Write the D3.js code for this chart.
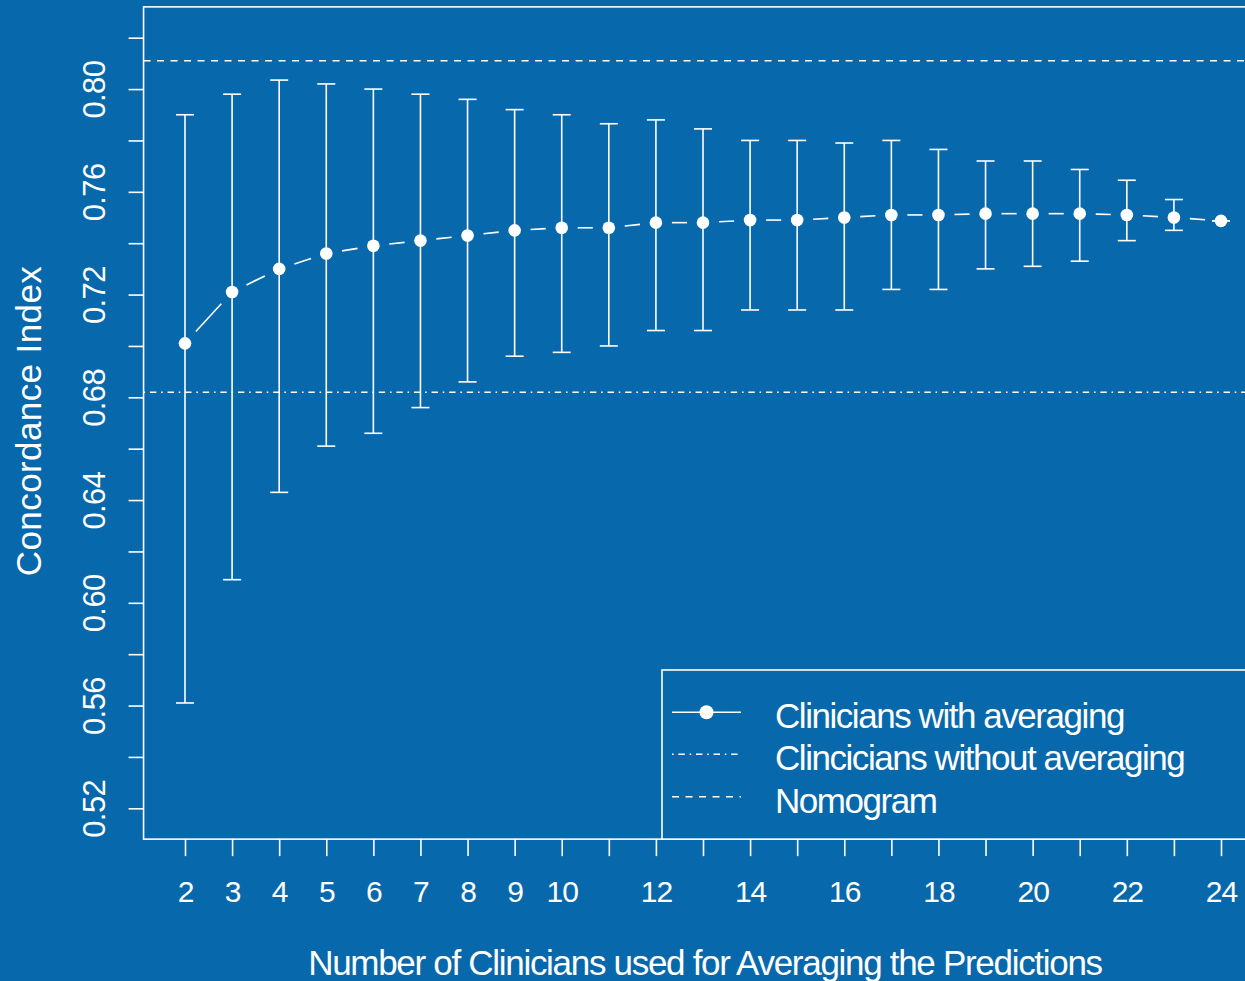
<!DOCTYPE html>
<html>
<head>
<meta charset="utf-8">
<script src="https://cdn.jsdelivr.net/npm/d3@7"></script>
<style>
  html, body { margin: 0; padding: 0; background: #0868ac; }
  svg { display: block; }
  text { font-family: "Liberation Sans", Arial, Helvetica, sans-serif; fill: #fff; }
</style>
</head>
<body>
<svg id="chart" width="1245" height="981"></svg>
<script>
// ---- data ----
const clinicians = [2,3,4,5,6,7,8,9,10,11,12,13,14,15,16,17,18,19,20,21,22,23,24];
const meanCI  = [0.701,0.721,0.730,0.736,0.739,0.741,0.743,0.745,0.746,0.746,0.748,0.748,0.749,0.749,0.750,0.751,0.751,0.7515,0.7515,0.7515,0.751,0.750,0.7487];
const upperCI = [0.790,0.798,0.8035,0.802,0.800,0.798,0.796,0.792,0.790,0.7865,0.788,0.7845,0.780,0.780,0.779,0.780,0.7765,0.772,0.772,0.7687,0.7645,0.757,0.7487];
const lowerCI = [0.561,0.609,0.643,0.661,0.666,0.676,0.686,0.696,0.6975,0.700,0.706,0.706,0.714,0.714,0.714,0.722,0.722,0.730,0.731,0.733,0.741,0.745,0.7487];
const nomogramCI = 0.811;
const noAveragingCI = 0.682;
const yTicks = [0.52,0.54,0.56,0.58,0.60,0.62,0.64,0.66,0.68,0.70,0.72,0.74,0.76,0.78,0.80,0.82];
const yLabels = [0.52,0.56,0.60,0.64,0.68,0.72,0.76,0.80];
const xTicks = clinicians;
const xLabels = [2,3,4,5,6,7,8,9,10,12,14,16,18,20,22,24];
const legendLabels = ["Clinicians with averaging","Clincicians without averaging","Nomogram"];

// ---- scales ----
const x = d3.scaleLinear().domain([2,24]).range([185,1221]);
const y = d3.scaleLinear().domain([0.52,0.82]).range([808.3,37.7]);
const xMin = 1.12, xMax = 24.88, yMin = 0.508, yMax = 0.832;

const svg = d3.select("#chart");
svg.append("rect").attr("width",1245).attr("height",981).attr("fill","#0868ac");

const W = "#ffffff", LW = 1.6;

// plot box
svg.append("rect")
  .attr("x", x(xMin)).attr("y", y(yMax))
  .attr("width", x(xMax)-x(xMin)).attr("height", y(yMin)-y(yMax))
  .attr("fill","none").attr("stroke",W).attr("stroke-width",LW);

// y axis
const yAxis = d3.axisLeft(y).tickValues(yTicks).tickSize(15).tickPadding(0)
  .tickFormat(d => yLabels.some(v => Math.abs(v-d)<1e-9) ? d3.format(".2f")(d) : "");
const gy = svg.append("g").attr("transform",`translate(${x(xMin)},0)`).call(yAxis);
gy.select(".domain").remove();
gy.selectAll("line").attr("stroke",W).attr("stroke-width",LW);
gy.selectAll("text")
  .attr("x",0).attr("y",0).attr("dy",null)
  .attr("transform", function(){ return `translate(${105-x(xMin)},0) rotate(-90)`; })
  .attr("text-anchor","middle")
  .style("font-size","31px").style("letter-spacing","-0.6px").attr("fill",W);

// x axis
const xAxis = d3.axisBottom(x).tickValues(xTicks).tickSize(17).tickPadding(0)
  .tickFormat(d => xLabels.includes(d) ? d : "");
const gx = svg.append("g").attr("transform",`translate(0,${y(yMin)})`).call(xAxis);
gx.select(".domain").remove();
gx.selectAll("line").attr("stroke",W).attr("stroke-width",LW);
gx.selectAll("text").attr("y",63).attr("dy",null)
  .style("font-size","30px").style("letter-spacing","-1px").attr("fill",W);

// axis titles
svg.append("text").attr("x",705).attr("y",975).attr("text-anchor","middle")
  .style("font-size","35px").style("letter-spacing","-1.3px")
  .text("Number of Clinicians used for Averaging the Predictions");
svg.append("text").attr("transform","translate(41,421) rotate(-90)").attr("text-anchor","middle")
  .style("font-size","35px").style("letter-spacing","0.4px")
  .text("Concordance Index");

// reference lines
svg.append("line").attr("x1",x(xMin)).attr("x2",x(xMax))
  .attr("y1",y(nomogramCI)).attr("y2",y(nomogramCI))
  .attr("stroke",W).attr("stroke-width",LW).attr("stroke-dasharray","7,6.5");
svg.append("line").attr("x1",x(xMin)).attr("x2",x(xMax))
  .attr("y1",y(noAveragingCI)).attr("y2",y(noAveragingCI))
  .attr("stroke",W).attr("stroke-width",LW).attr("stroke-dasharray","1.6,4.8,6.4,4.8");

const data = clinicians.map((c,i)=>({c, m:meanCI[i], lo:lowerCI[i], hi:upperCI[i]}));

// error bars
const eb = svg.append("g");
data.forEach(d=>{
  if (d.hi > d.lo) {
    eb.append("line").attr("x1",x(d.c)).attr("x2",x(d.c)).attr("y1",y(d.lo)).attr("y2",y(d.hi))
      .attr("stroke",W).attr("stroke-width",LW);
  }
  [d.lo,d.hi].forEach(v=>{
    eb.append("line").attr("x1",x(d.c)-9).attr("x2",x(d.c)+9).attr("y1",y(v)).attr("y2",y(v))
      .attr("stroke",W).attr("stroke-width",LW);
  });
});

// type="b" line with gaps around points
const gap = 16;
for (let i=0;i<data.length-1;i++){
  const x1=x(data[i].c), y1=y(data[i].m), x2=x(data[i+1].c), y2=y(data[i+1].m);
  const len=Math.hypot(x2-x1,y2-y1);
  if (len<=2*gap) continue;
  const ux=(x2-x1)/len, uy=(y2-y1)/len;
  svg.append("line").attr("x1",x1+ux*gap).attr("y1",y1+uy*gap)
    .attr("x2",x2-ux*gap).attr("y2",y2-uy*gap)
    .attr("stroke",W).attr("stroke-width",LW);
}
svg.append("g").selectAll("circle").data(data).join("circle")
  .attr("cx",d=>x(d.c)).attr("cy",d=>y(d.m)).attr("r",6.3).attr("fill",W);

// legend
const lgX = 662, lgY = 670;
svg.append("rect").attr("x",lgX).attr("y",lgY)
  .attr("width",x(xMax)-lgX).attr("height",y(yMin)-lgY)
  .attr("fill","#0868ac").attr("stroke",W).attr("stroke-width",LW);
const rowY = [712.3, 754.3, 796.7];
const dashes = [null, "1.6,4.8,6.4,4.8", "7,6.5"];
legendLabels.forEach((lab,i)=>{
  const l = svg.append("line").attr("x1",672).attr("x2",741).attr("y1",rowY[i]).attr("y2",rowY[i])
    .attr("stroke",W).attr("stroke-width",LW);
  if (dashes[i]) l.attr("stroke-dasharray",dashes[i]);
  if (i===0) svg.append("circle").attr("cx",706.5).attr("cy",rowY[i]).attr("r",7).attr("fill",W);
  svg.append("text").attr("x",775).attr("y",rowY[i]+16).style("font-size","35px")
    .style("letter-spacing","-1.45px").text(lab);
});
</script>
</body>
</html>
